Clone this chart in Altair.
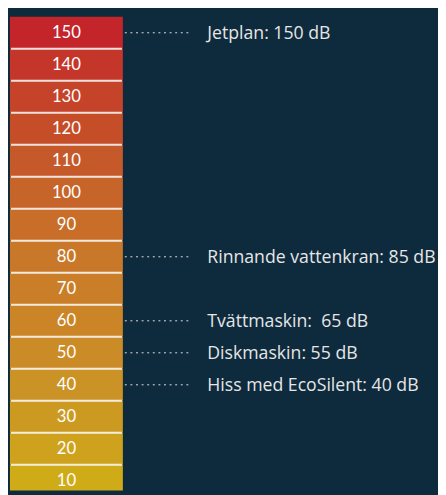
import altair as alt
import pandas as pd

# Data
levels = [150, 140, 130, 120, 110, 100, 90, 80, 70, 60, 50, 40, 30, 20, 10]
sources = ["Jetplan", "Rinnande vattenkran", "Tvättmaskin", "Diskmaskin", "Hiss med EcoSilent"]
source_db = [150, 85, 65, 55, 40]
source_labels = ["Jetplan: 150 dB", "Rinnande vattenkran: 85 dB", "Tvättmaskin:\u00a0 65 dB",
                 "Diskmaskin: 55 dB", "Hiss med EcoSilent: 40 dB"]

color_domain = [10, 40, 80, 110, 150]
color_range = ["#cfab18", "#cb9225", "#c9782a", "#c5592a", "#c3252b"]

BG = "#0e2a3d"

cells = pd.DataFrame({"level": levels, "label": [str(v) for v in levels]})
notes = pd.DataFrame({"source": sources, "db": source_db, "text": source_labels})

yscale = alt.Scale(domain=[6.96, 156.35], nice=False, zero=False)

base_cells = alt.Chart(cells).transform_calculate(
    top="datum.level + 5", bottom="datum.level - 5"
)

rects = base_cells.mark_rect(clip=True).encode(
    x=alt.value(2), x2=alt.value(117),
    y=alt.Y("top:Q", scale=yscale, axis=None),
    y2="bottom:Q",
    color=alt.Color("level:Q", scale=alt.Scale(domain=color_domain, range=color_range), legend=None),
)

seps = base_cells.transform_filter("datum.level > 10").mark_rule(
    color="white", strokeWidth=2, opacity=0.85, clip=True
).encode(
    x=alt.value(3), x2=alt.value(116),
    y=alt.Y("bottom:Q", scale=yscale, axis=None),
)

nums = base_cells.mark_text(
    font="Lato", fontSize=17, color="white", baseline="middle", align="center", clip=True
).encode(
    x=alt.value(59.5),
    y=alt.Y("level:Q", scale=yscale, axis=None),
    text="label:N",
)

base_notes = alt.Chart(notes).transform_calculate(row="floor(datum.db / 10) * 10")

dots = base_notes.mark_rule(color="#e0e0e0", strokeWidth=1, strokeDash=[2, 3.7]).encode(
    x=alt.value(119), x2=alt.value(187),
    y=alt.Y("row:Q", scale=yscale, axis=None),
)

labels = base_notes.mark_text(
    font="Open Sans", fontSize=18, color="#e6e6e6", baseline="middle", align="left", dy=1
).encode(
    x=alt.value(203),
    y=alt.Y("row:Q", scale=yscale, axis=None),
    text="text:N",
)

chart = alt.layer(rects, seps, nums, dots, labels).properties(
    width=438, height=487, background=BG, padding=0,
    autosize=alt.AutoSizeParams(type="none"),
).configure_view(stroke=None)

chart.save("out.html", embed_options={"renderer": "svg", "actions": False})
